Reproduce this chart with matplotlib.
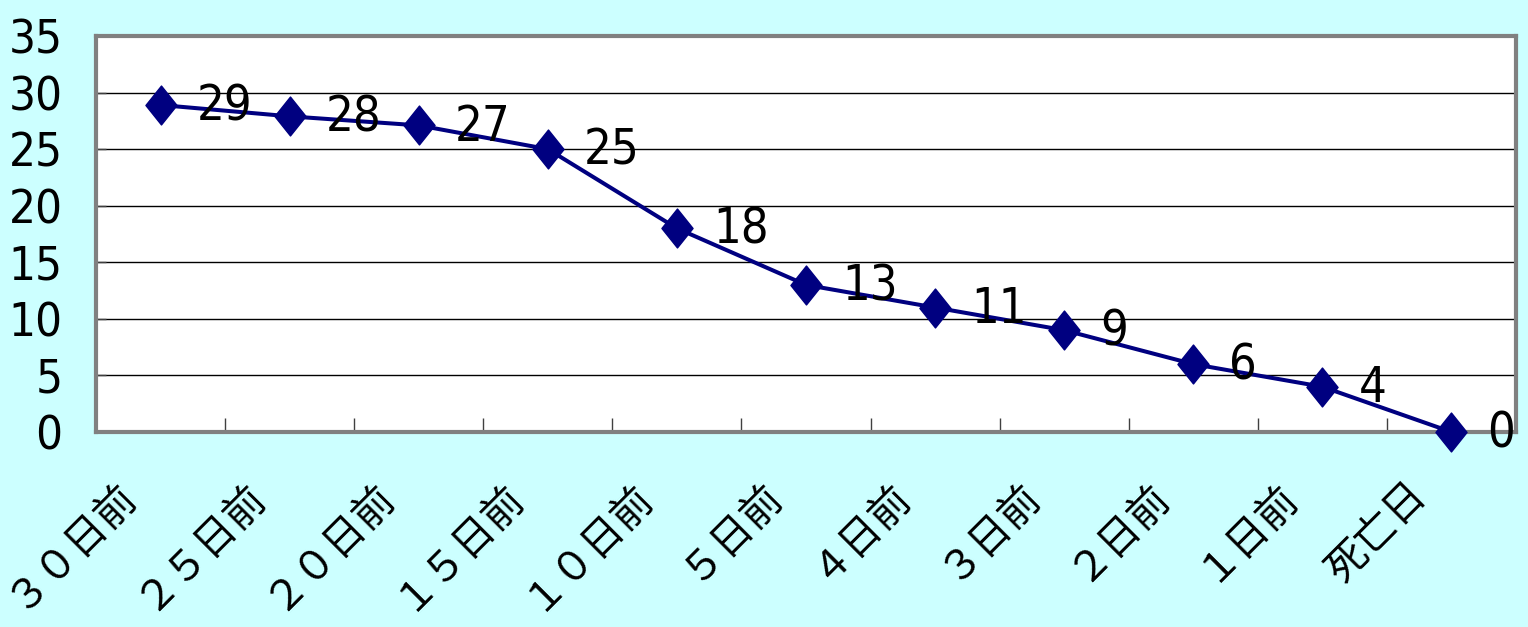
import os
import matplotlib
matplotlib.use("Agg")
import matplotlib.pyplot as plt
from matplotlib.path import Path
from matplotlib.ticker import MultipleLocator, FixedLocator
from matplotlib import font_manager as fm

categories = ["３０日前", "２５日前", "２０日前", "１５日前", "１０日前", "５日前",
              "４日前", "３日前", "２日前", "１日前", "死亡日"]
values = [28.9, 27.9, 27.1, 25.0, 18.0, 13.0, 11.0, 9.0, 6.0, 4.0, 0.0]

BG = "#CCFFFF"
NAVY = "#000080"
GRAY = "#808080"
CJK_FONT = ["Noto Sans CJK JP", "DejaVu Sans"]


def find_narrow_font():
    files = [f.fname for f in fm.fontManager.ttflist]
    prefs = [
        lambda b: b.startswith("liberationsansnarrow-regular"),
        lambda b: b.startswith("notosans-condensed.") or b == "notosans-condensed.ttf",
        lambda b: b.startswith("opensans-condensed") and "bold" not in b and "italic" not in b and "light" not in b,
        lambda b: b.startswith("dejavusanscondensed."),
        lambda b: b.startswith("roboto") and "condensed-regular" in b,
        lambda b: ("condensed" in b or "narrow" in b) and "bold" not in b and "italic" not in b
                  and "oblique" not in b and "light" not in b and "mono" not in b and "serif" not in b
                  and "extra" not in b and "semi" not in b and "thin" not in b and "medium" not in b
                  and "black" not in b,
    ]
    for p in prefs:
        for f in files:
            b = os.path.basename(f).lower()
            if p(b):
                return f
    return None


narrow = find_narrow_font()


def num_prop(size):
    if narrow:
        return fm.FontProperties(fname=narrow, size=size)
    return fm.FontProperties(family="DejaVu Sans", size=size * 0.85)


fig = plt.figure(figsize=(15.28, 6.27), dpi=100, facecolor=BG)
ax = fig.add_axes([96/1528, 1 - 432/627, (1516 - 96)/1528, (432 - 36)/627])
ax.set_facecolor("white")

x = list(range(len(categories)))
diamond = Path([(0, 1), (0.8, 0), (0, -1), (-0.8, 0), (0, 1)],
               [Path.MOVETO, Path.LINETO, Path.LINETO, Path.LINETO, Path.CLOSEPOLY])
ax.plot(x, values, color=NAVY, lw=2.9, marker=diamond, markersize=28,
        markerfacecolor=NAVY, markeredgecolor=NAVY, zorder=3, clip_on=False)

for xi, v in zip(x, values):
    ax.annotate(f"{v:.0f}", (xi, v), xytext=(26, -1), textcoords="offset points",
                ha="left", va="center", fontproperties=num_prop(35), zorder=4)

ax.set_xlim(-0.5, len(categories) - 0.5)
ax.set_ylim(0, 35)
ax.yaxis.set_major_locator(MultipleLocator(5))
ax.grid(axis="y", color="black", lw=1.0, zorder=1)
ax.set_axisbelow(True)

# category labels (rotated), placed below the axis
ax.set_xticks(x)
ax.set_xticklabels([])
for xi, cat in zip(x, categories):
    ax.annotate(cat, xy=(xi, 0), xycoords=("data", "axes fraction"),
                xytext=(-33, -30), textcoords="offset points",
                rotation=45, rotation_mode="anchor", ha="right", va="top",
                fontsize=29.5, family=CJK_FONT, annotation_clip=False)
ax.xaxis.set_minor_locator(FixedLocator([i + 0.5 for i in range(len(categories) - 1)]))
ax.tick_params(axis="x", which="major", length=0)
ax.tick_params(axis="x", which="minor", direction="in", length=10, width=1.0, color="#404040")
ax.tick_params(axis="y", direction="in", length=7, width=1.0, color="#404040", pad=24)
for lab in ax.get_yticklabels():
    lab.set_fontproperties(num_prop(34))

for side in ["left", "right", "top", "bottom"]:
    ax.spines[side].set_color(GRAY)
    ax.spines[side].set_linewidth(3)

fig.savefig("out.png", dpi=100, facecolor=BG)
